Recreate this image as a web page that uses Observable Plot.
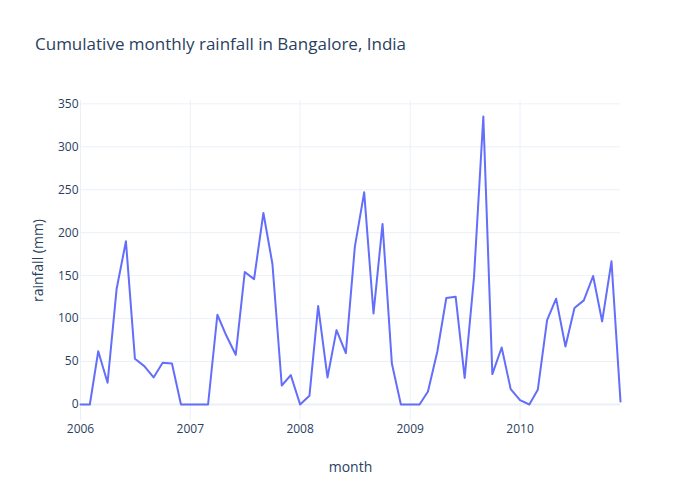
<!DOCTYPE html>
<html>
<head>
<meta charset="utf-8">
<script src="https://cdn.jsdelivr.net/npm/d3@7"></script>
<script src="https://cdn.jsdelivr.net/npm/@observablehq/plot@0.6"></script>
<style>
  html, body { margin: 0; padding: 0; background: #fff; }
  #wrap { position: relative; width: 700px; height: 500px; }
  #title { position: absolute; left: 35px; top: 32px; font-family: "Open Sans", sans-serif; font-size: 17px; color: #2a3f5f; white-space: nowrap; }
  svg { display: block; }
</style>
</head>
<body>
<div id="wrap"><div id="title">Cumulative monthly rainfall in Bangalore, India</div></div>
<script>
const months = [
  "2006-01","2006-02","2006-03","2006-04","2006-05","2006-06","2006-07","2006-08","2006-09","2006-10","2006-11","2006-12",
  "2007-01","2007-02","2007-03","2007-04","2007-05","2007-06","2007-07","2007-08","2007-09","2007-10","2007-11","2007-12",
  "2008-01","2008-02","2008-03","2008-04","2008-05","2008-06","2008-07","2008-08","2008-09","2008-10","2008-11","2008-12",
  "2009-01","2009-02","2009-03","2009-04","2009-05","2009-06","2009-07","2009-08","2009-09","2009-10","2009-11","2009-12",
  "2010-01","2010-02","2010-03","2010-04","2010-05","2010-06","2010-07","2010-08","2010-09","2010-10","2010-11","2010-12"
];
const rainfall = [
  0, 0, 62, 25.3, 134.4, 190, 53.2, 44.7, 31.5, 48.6, 47.8, 0,
  0, 0, 0, 104.5, 80, 57.9, 154.2, 146, 223, 163.6, 22.1, 34.2,
  0, 10.1, 114.6, 31.5, 86.6, 59.8, 183.8, 247, 106, 210.2, 47.8, 0,
  0, 0, 15.2, 61.4, 124, 125.5, 31, 148, 335.3, 35.4, 66.4, 17.9,
  5, 0, 17.1, 98.3, 123.2, 67.6, 112.3, 121.2, 149.6, 96.7, 166.7, 3.5
];
const yTicks = [0, 50, 100, 150, 200, 250, 300, 350];
const xTickLabels = ["2006", "2007", "2008", "2009", "2010"];
const xLabel = "month";
const yLabel = "rainfall (mm)";

const parse = d3.utcParse("%Y-%m");
const data = months.map((m, i) => ({month: parse(m), rain: rainfall[i]}));
const xTicks = xTickLabels.map(y => d3.utcParse("%Y")(y));
const yMax = d3.max(rainfall), yMin = d3.min(rainfall);
const pad = (yMax - yMin) / 18;

const textColor = "#2a3f5f";
const gridColor = "#ebf0f8";

const chart = Plot.plot({
  width: 700,
  height: 500,
  marginLeft: 80,
  marginRight: 80,
  marginTop: 100,
  marginBottom: 80,
  style: {fontFamily: "'Open Sans', sans-serif", fontSize: "12px", color: textColor, background: "#fff"},
  x: {type: "utc", domain: [data[0].month, data[data.length - 1].month]},
  y: {domain: [yMin - pad, yMax + pad]},
  marks: [
    Plot.gridX(xTicks, {stroke: gridColor, strokeOpacity: 1, strokeWidth: 1}),
    Plot.gridY(yTicks, {stroke: gridColor, strokeOpacity: 1, strokeWidth: 1}),
    Plot.ruleY([0], {stroke: gridColor, strokeWidth: 2}),
    Plot.axisX(xTicks, {tickSize: 0, tickPadding: 4, tickFormat: "%Y", label: null, fontSize: 12, fill: textColor}),
    Plot.axisY(yTicks, {tickSize: 0, tickPadding: 2, label: null, fontSize: 12, fill: textColor}),
    Plot.lineY(data, {x: "month", y: "rain", stroke: "#636efa", strokeWidth: 2}),
    Plot.text([xLabel], {frameAnchor: "bottom", dy: 47, text: d => d, fontSize: 14, fill: textColor, lineAnchor: "middle"}),
    Plot.text([yLabel], {frameAnchor: "left", dx: -42, text: d => d, rotate: -90, fontSize: 14, fill: textColor, lineAnchor: "middle", textAnchor: "middle"})
  ]
});
document.getElementById("wrap").appendChild(chart);
</script>
</body>
</html>
